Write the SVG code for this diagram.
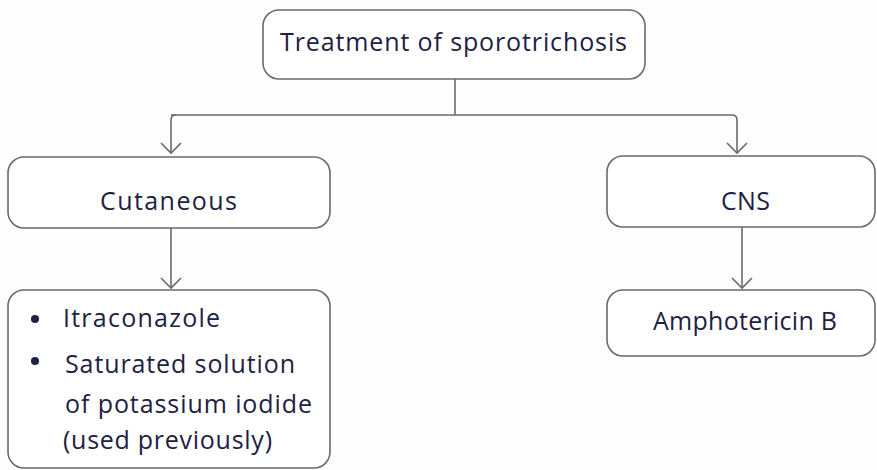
<svg xmlns="http://www.w3.org/2000/svg" width="877" height="470" viewBox="0 0 877 470">
  <style>
    .box { fill: #ffffff; stroke: #6a6a6a; stroke-width: 1.6; }
    .wire { fill: none; stroke: #6a6a6a; stroke-width: 1.6; }
    .label { font-family: "Open Sans", "Noto Sans", sans-serif; font-size: 25px; fill: #1d2142; }
    .mid { text-anchor: middle; }
    .dot { fill: #1d2142; }
  </style>
  <defs>
    <marker id="vee" viewBox="-12 -12 14 24" markerWidth="14" markerHeight="24" refX="0" refY="0" orient="auto" markerUnits="userSpaceOnUse">
      <path d="M-10,-10 L0,0 L-10,10" fill="none" stroke="#6a6a6a" stroke-width="1.6"/>
    </marker>
  </defs>

  <rect width="877" height="470" fill="#fdfdfd"/>

  <!-- connectors -->
  <g id="connectors">
    <path class="wire" d="M455,79 V115"/>
    <path class="wire" d="M171,115 H732 Q737,115 737,120 V153" marker-end="url(#vee)"/>
    <path class="wire" d="M176,115 Q171,115 171,120 V153" marker-end="url(#vee)"/>
    <path class="wire" d="M171,228 V288" marker-end="url(#vee)"/>
    <path class="wire" d="M742,227 V288" marker-end="url(#vee)"/>
  </g>

  <!-- root -->
  <g id="root">
    <rect class="box" x="263" y="10" width="382" height="69" rx="16"/>
    <text class="label mid" x="453.5" y="51" font-size="26" textLength="347" lengthAdjust="spacing">Treatment of sporotrichosis</text>
  </g>

  <!-- cutaneous branch -->
  <g id="cutaneous">
    <rect class="box" x="8" y="157" width="322" height="71" rx="16"/>
    <text class="label mid" x="168.5" y="210" textLength="137" lengthAdjust="spacing">Cutaneous</text>
  </g>

  <g id="cutaneous-drugs">
    <rect class="box" x="8" y="290" width="322" height="178" rx="16"/>
    <circle class="dot" cx="35" cy="319" r="4"/>
    <circle class="dot" cx="35" cy="361" r="4"/>
    <text class="label" x="63" y="327" textLength="157" lengthAdjust="spacing">Itraconazole</text>
    <text class="label" x="65" y="373" textLength="230" lengthAdjust="spacing">Saturated solution</text>
    <text class="label" x="65" y="413" textLength="247" lengthAdjust="spacing">of potassium iodide</text>
    <text class="label" x="63" y="449" textLength="209" lengthAdjust="spacing">(used previously)</text>
  </g>

  <!-- CNS branch -->
  <g id="cns">
    <rect class="box" x="607" y="156" width="268" height="71" rx="16"/>
    <text class="label mid" x="745.5" y="210" textLength="49" lengthAdjust="spacing">CNS</text>
  </g>

  <g id="cns-drug">
    <rect class="box" x="607" y="290" width="268" height="66" rx="16"/>
    <text class="label mid" x="745" y="330" textLength="184" lengthAdjust="spacing">Amphotericin B</text>
  </g>
</svg>
